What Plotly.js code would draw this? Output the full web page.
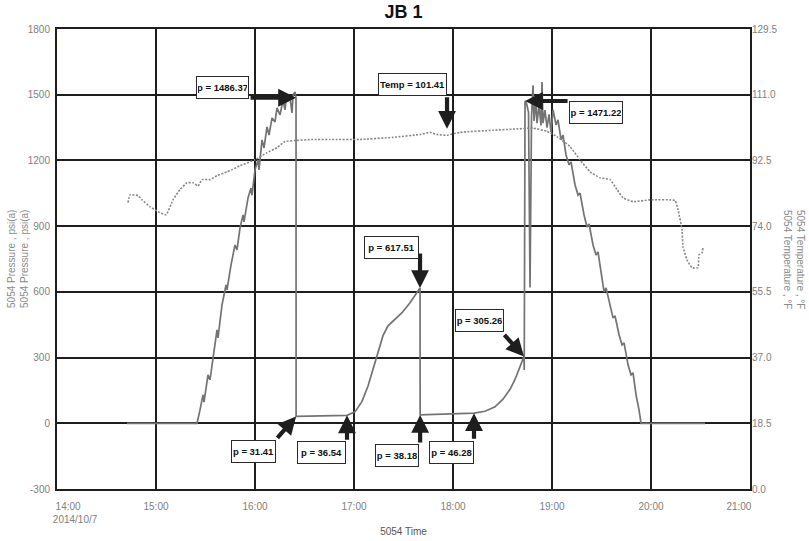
<!DOCTYPE html>
<html>
<head>
<meta charset="utf-8">
<script src="https://cdn.plot.ly/plotly-3.0.1.min.js"></script>
<style>html,body{margin:0;padding:0;background:#fff;}#chart{width:809px;height:541px;}</style>
</head>
<body>
<div id="chart"></div>
<script>
// ---- DATA ----
const DAY = '2014-10-07 ';
const pressTime = ['14:42:25','15:24:51','15:26:40','15:28:29','15:29:05','15:31:31','15:32:44','15:35:09','15:36:58','15:37:35',
 '15:40:00','15:42:26','15:43:02','15:45:28','15:47:53','15:49:06','15:50:55','15:52:44','15:53:20','15:55:46',
 '15:57:35','15:58:11','16:00:00','16:01:50','16:02:26','16:04:15','16:05:28','16:07:17','16:08:29','16:10:19',
 '16:12:08','16:13:20','16:15:10','16:16:59','16:18:11','16:18:48','16:21:13','16:22:26','16:23:02','16:24:15',
 '16:24:52','16:24:55','16:33:20','16:45:28','16:55:46','17:00:37','17:04:52','17:08:30','17:11:32','17:14:34',
 '17:17:35','17:20:37','17:24:52','17:29:06','17:33:57','17:37:35','17:40:01','17:40:05','17:46:05','17:58:12',
 '18:07:17','18:12:44','18:19:25','18:25:28','18:30:18','18:34:34','18:37:35','18:40:37','18:43:03','18:43:10',
 '18:43:40','18:44:34','18:45:46','18:46:41','18:47:36','18:48:30','18:49:06','18:50:18','18:50:55','18:52:08',
 '18:53:21','18:53:57','18:54:33','18:55:46','18:56:59','18:58:12','18:59:25','19:00:38','19:02:26','19:03:38',
 '19:05:29','19:06:41','19:08:30','19:10:19','19:11:32','19:13:58','19:15:47','19:16:59','19:19:25','19:21:14',
 '19:22:27','19:24:52','19:26:41','19:27:54','19:30:19','19:31:32','19:32:45','19:35:10','19:37:00','19:38:12',
 '19:40:38','19:42:27','19:43:40','19:46:05','19:47:54','19:49:07','19:50:56','19:52:45','19:53:58','20:32:45'];
const pressValue = [0,0,61,130,97,221,198,335,426,390,
 540,632,609,723,814,792,892,951,919,1029,
 1074,1042,1157,1202,1157,1294,1257,1353,1316,1394,
 1376,1440,1408,1476,1431,1476,1485,1417,1499,1513,
 1486.37,31.41,32.5,34.5,36.54,52,100,170,250,330,
 400,445,475,505,550,592,617.51,38.18,39.5,41.5,
 44,46.28,55,75,110,155,200,255,305.26,243,
 1471.22,1460,1420,620,1400,1543,1380,1470,1370,1450,
 1360,1558,1370,1430,1350,1410,1330,1431,1362,1385,
 1294,1316,1225,1180,1193,1088,1042,1051,951,896,
 910,814,768,782,654,600,618,540,481,490,
 404,358,367,267,221,230,130,61,0,0];

const tempTime = ['14:43:02','14:44:15','14:49:06','14:51:31','14:56:22','15:01:13','15:06:04','15:10:18','15:14:33','15:18:47',
 '15:22:26','15:25:28','15:27:53','15:32:44','15:36:58','15:43:02','15:46:04','15:50:55','16:00:00','16:07:17',
 '16:13:20','16:18:11','16:24:15','16:35:10','16:45:28','17:03:39','17:23:39','17:40:01','17:46:05','17:50:19',
 '17:56:23','18:04:15','18:24:15','18:36:23','18:48:30','18:56:59','19:03:39','19:10:56','19:16:59','19:23:03',
 '19:29:07','19:35:10','19:39:25','19:43:03','19:49:07','19:59:25','20:14:34','20:16:23','20:18:48','20:19:25',
 '20:21:50','20:24:52','20:28:30','20:29:06','20:30:55','20:31:31'];
const tempValue = [80.6,82.8,82.6,81.4,79.5,78.1,77.2,81.4,84.3,86.2,
 86.2,85.3,87.1,87.1,88.2,89.3,89.9,91.0,92.7,94.7,
 96.1,97.8,98.1,98.4,98.4,98.4,99.0,99.8,100.4,99.8,
 99.6,100.4,101.0,101.3,101.6,100.7,99.0,96.4,92.7,89.3,
 87.6,87.1,84.3,82.0,80.9,81.4,81.2,78.6,73.0,68.2,
 64.5,62.3,62.3,65.9,66.5,67.9];

const xTickTimes = ['14:00','15:00','16:00','17:00','18:00','19:00','20:00','21:00'];
const xTickLabels = ['14:00','15:00','16:00','17:00','18:00','19:00','20:00','21:00'];
const xTickDate = '2014/10/7';
const pTicks = [-300,0,300,600,900,1200,1500,1800];
const tTicks = [0,18.5,37,55.5,74,92.5,111,129.5];

const annLabel = ['p = 1486.37','Temp = 101.41','p = 1471.22','p = 617.51','p = 305.26','p = 31.41','p = 36.54','p = 38.18','p = 46.28'];
const annTime  = ['16:24:52','17:56:23','18:43:40','17:40:01','18:43:03','16:24:55','16:55:46','17:40:05','18:12:44'];
const annValue = [1486.37,101.41,1471.22,617.51,305.26,31.41,36.54,38.18,46.28];
const annAxis  = ['y','y2','y','y','y','y','y','y','y'];

// ---- STYLE ----
const annStyle = [
 {ax:-47, ay:0,   xs:-73.5, ys:10,   w:53, h:23},
 {ax:0,   ay:-33, xs:-34.5, ys:44.5, w:69, h:23},
 {ax:44,  ay:0,   xs:71,    ys:-11,  w:54, h:23},
 {ax:0,   ay:-36, xs:-29,   ys:41,   w:55, h:23},
 {ax:-21, ay:-23, xs:-44.5, ys:36,   w:49, h:23},
 {ax:-20, ay:23,  xs:-42.5, ys:-35.5,w:45, h:23},
 {ax:0,   ay:26,  xs:-26,   ys:-37,  w:49, h:23},
 {ax:0,   ay:29,  xs:-23,   ys:-40.5,w:44, h:23},
 {ax:0,   ay:27,  xs:-22.5, ys:-39,  w:45, h:23}
];

const FONT = 'Arial, "Liberation Sans", sans-serif';
const NB = '\u00a0';
const tickText = xTickLabels.map((t,i) => {
  if (i === 0) return NB.repeat(8) + t + '<br>' + NB.repeat(13) + xTickDate;
  if (i === xTickLabels.length-1) return t + NB.repeat(8);
  return t;
});

const traces = [
  {x: pressTime.map(t => DAY + t), y: pressValue, type: 'scatter', mode: 'lines',
   line: {color: '#737373', width: 1.7}, yaxis: 'y', hoverinfo: 'skip'},
  {x: tempTime.map(t => DAY + t), y: tempValue, type: 'scatter', mode: 'lines',
   line: {color: '#858585', width: 1.6, dash: '2px,1.5px', shape: 'spline', smoothing: 0.4}, yaxis: 'y2', hoverinfo: 'skip'}
];

const annotations = [];
annLabel.forEach((lab, i) => {
  const s = annStyle[i];
  annotations.push({x: DAY + annTime[i], y: annValue[i], xref: 'x', yref: annAxis[i],
    text: '', showarrow: true, ax: s.ax, ay: s.ay, arrowhead: 2, arrowsize: 0.85,
    arrowwidth: 4.2, arrowcolor: '#1e1e1e', standoff: 0});
  annotations.push({x: DAY + annTime[i], y: annValue[i], xref: 'x', yref: annAxis[i],
    text: '<b>' + lab + '</b>', showarrow: false, xshift: s.xs, yshift: s.ys,
    width: s.w - 4, height: s.h - 4, borderpad: 1, bgcolor: '#ffffff',
    bordercolor: '#2a2a2a', borderwidth: 1, font: {family: FONT, size: 9.5, color: '#111'}});
});
annotations.push({xref: 'paper', yref: 'paper', x: -0.0563, y: 0.5, xanchor: 'center', yanchor: 'middle',
  showarrow: false, textangle: -90,
  text: '5054 Pressure , psi(a)<br>5054 Pressure , psi(a)', font: {family: FONT, size: 10, color: '#8a8a8a'}});
annotations.push({xref: 'paper', yref: 'paper', x: 1.0635, y: 0.5, xanchor: 'center', yanchor: 'middle',
  showarrow: false, textangle: 90,
  text: '5054 Temperature , °F<br>5054 Temperature , °F', font: {family: FONT, size: 10, color: '#8a8a8a'}});

const layout = {
  width: 809, height: 541,
  margin: {l: 57, r: 59, t: 29, b: 52, pad: 0},
  paper_bgcolor: '#ffffff', plot_bgcolor: '#ffffff',
  showlegend: false,
  title: {text: '<b>JB 1</b>', font: {family: FONT, size: 18, color: '#111'},
    x: 0.5, xref: 'paper', y: 0.978, yref: 'container', yanchor: 'middle'},
  xaxis: {type: 'date', range: [DAY + '14:00', DAY + '21:00'],
    tickvals: xTickTimes.map(t => DAY + t), ticktext: tickText,
    tickfont: {family: FONT, size: 10, color: '#808080'},
    showgrid: true, gridcolor: '#1e1e1e', gridwidth: 2,
    showline: true, linecolor: '#1e1e1e', linewidth: 2, mirror: true,
    zeroline: false, ticks: '', automargin: false, ticklabelstandoff: 7,
    title: {text: '5054 Time', font: {family: FONT, size: 10, color: '#555'}, standoff: 4}},
  yaxis: {range: [-300, 1800], tickvals: pTicks, ticktext: pTicks.map(String),
    tickfont: {family: FONT, size: 10, color: '#808080'},
    showgrid: true, gridcolor: '#1e1e1e', gridwidth: 2,
    showline: true, linecolor: '#1e1e1e', linewidth: 2, mirror: true,
    zeroline: false, ticks: '', automargin: false, ticklabelstandoff: 3},
  yaxis2: {overlaying: 'y', side: 'right', range: [0, 129.5], tickvals: tTicks,
    ticktext: tTicks.map(v => v.toFixed(1)),
    tickfont: {family: FONT, size: 10, color: '#808080'},
    showgrid: false, zeroline: false, showline: false, ticks: '', automargin: false, ticklabelstandoff: 1},
  annotations: annotations
};

Plotly.newPlot('chart', traces, layout, {staticPlot: true, displayModeBar: false});
</script>
</body>
</html>
